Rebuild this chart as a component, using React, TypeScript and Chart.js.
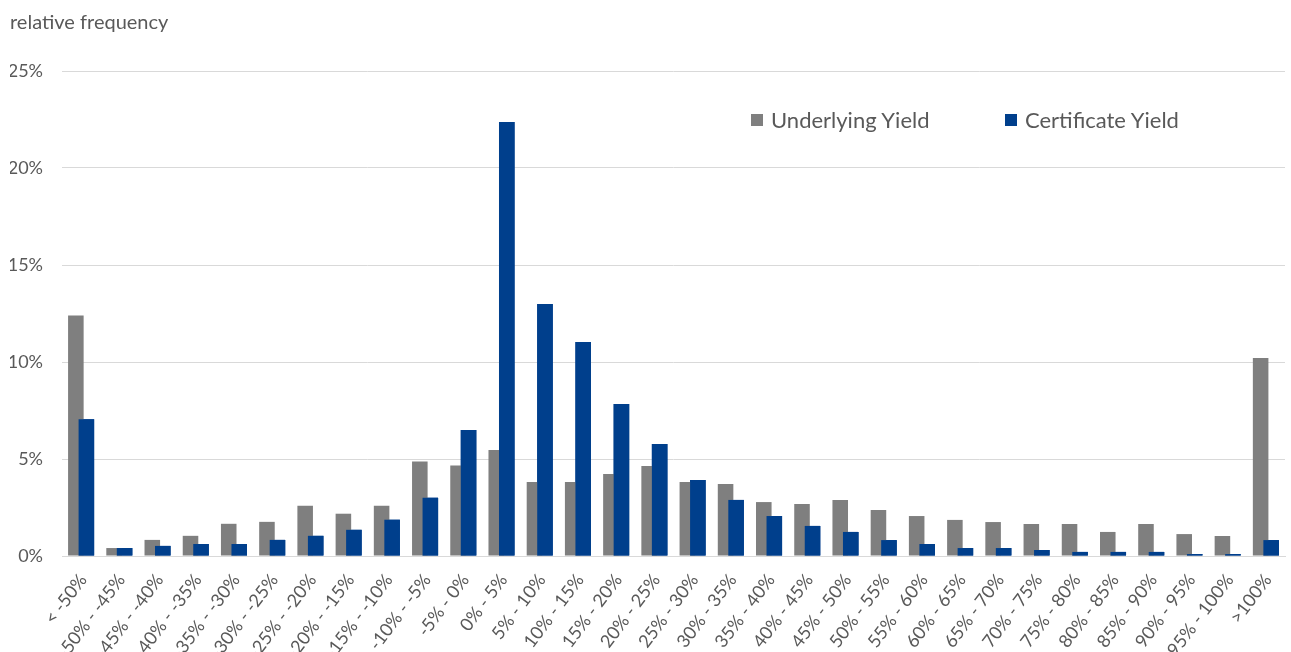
import React, { useEffect, useRef } from 'react';
import { Chart, registerables } from 'chart.js';

Chart.register(...registerables);

const categories = [
  '< -50%', '-50% - -45%', '-45% - -40%', '-40% - -35%', '-35% - -30%', '-30% - -25%',
  '-25% - -20%', '-20% - -15%', '-15% - -10%', '-10% - -5%', '-5% - 0%', '0% - 5%',
  '5% - 10%', '10% - 15%', '15% - 20%', '20% - 25%', '25% - 30%', '30% - 35%',
  '35% - 40%', '40% - 45%', '45% - 50%', '50% - 55%', '55% - 60%', '60% - 65%',
  '65% - 70%', '70% - 75%', '75% - 80%', '80% - 85%', '85% - 90%', '90% - 95%',
  '95% - 100%', '>100%',
];

const underlyingYield = [
  12.4, 0.41, 0.83, 1.04, 1.66, 1.76, 2.59, 2.18, 2.59, 4.87, 4.66,
  5.46, 3.81, 3.81, 4.23, 4.64, 3.81, 3.71, 2.78, 2.68, 2.89,
  2.37, 2.06, 1.86, 1.75, 1.65, 1.65, 1.24, 1.65, 1.13, 1.03,
  10.2,
];

const certificateYield = [
  7.05, 0.41, 0.52, 0.62, 0.62, 0.83, 1.04, 1.35, 1.87, 3.0, 6.49,
  22.37, 12.99, 11.03, 7.84, 5.77, 3.92, 2.89, 2.06, 1.55, 1.24,
  0.82, 0.62, 0.41, 0.41, 0.31, 0.21, 0.21, 0.21, 0.1, 0.1,
  0.82,
];

const seriesNames = ['Underlying Yield', 'Certificate Yield'];
const seriesColors = ['#7f7f7f', '#003f8c'];
const yAxisTitle = 'relative frequency';
const yMax = 25;
const yStep = 5;

const TEXT = '#595959';
const FONT = 'Lato';

const blueOnTop = {
  id: 'blueOnTop',
  afterDatasetsDraw(chart: any) {
    const meta = chart.getDatasetMeta(1);
    if (meta && !meta.hidden) meta.controller.draw();
  },
};

export default function App() {
  const ref = useRef<HTMLCanvasElement | null>(null);

  useEffect(() => {
    if (!ref.current) return;
    const chart = new Chart(ref.current, {
      type: 'bar',
      data: {
        labels: categories,
        datasets: [
          {
            label: seriesNames[0],
            data: underlyingYield,
            backgroundColor: seriesColors[0],
            categoryPercentage: 0.55,
            barPercentage: 1.48,
          },
          {
            label: seriesNames[1],
            data: certificateYield,
            backgroundColor: seriesColors[1],
            categoryPercentage: 0.55,
            barPercentage: 1.48,
          },
        ],
      },
      plugins: [blueOnTop],
      options: {
        animation: false,
        responsive: true,
        maintainAspectRatio: false,
        layout: { padding: { left: 10, right: 6, top: 0, bottom: 0 } },
        plugins: {
          legend: { display: false },
          tooltip: { enabled: false },
          title: {
            display: true,
            text: yAxisTitle,
            align: 'start',
            color: TEXT,
            font: { family: FONT, size: 20, weight: 'normal', lineHeight: 1.2 },
            padding: { top: 11, bottom: 36 },
          },
        },
        scales: {
          x: {
            grid: { display: false, drawTicks: false },
            border: { display: true, color: '#d9d9d9', width: 1 },
            afterFit(scale: any) {
              scale.height = 96;
              scale.paddingRight = 0;
              scale.paddingLeft = 0;
            },
            ticks: {
              autoSkip: false,
              minRotation: 53,
              maxRotation: 53,
              color: TEXT,
              padding: 14,
              labelOffset: 2,
              font: { family: FONT, size: 18 },
            },
          },
          y: {
            min: 0,
            max: yMax,
            grid: { color: '#d9d9d9', lineWidth: 1, drawTicks: false },
            border: { display: false },
            afterFit(scale: any) {
              scale.width = 52;
            },
            ticks: {
              stepSize: yStep,
              padding: 19,
              color: TEXT,
              font: { family: FONT, size: 18 },
              callback: (v: any) => `${v}%`,
            },
          },
        },
      },
    });
    return () => chart.destroy();
  }, []);

  const legendItem = (i: number, left: number) => (
    <div
      key={i}
      style={{
        position: 'absolute',
        left,
        top: 106,
        display: 'flex',
        alignItems: 'center',
        fontFamily: FONT,
        fontSize: 22,
        color: TEXT,
        whiteSpace: 'nowrap',
      }}
    >
      <span
        style={{
          display: 'inline-block',
          width: 12,
          height: 12,
          background: seriesColors[i],
          marginRight: 8,
        }}
      />
      {seriesNames[i]}
    </div>
  );

  return (
    <div
      style={{
        position: 'fixed',
        left: 0,
        top: 0,
        width: 1291,
        height: 652,
        background: '#fff',
      }}
    >
      <canvas ref={ref} />
      {legendItem(0, 751)}
      {legendItem(1, 1005)}
    </div>
  );
}
